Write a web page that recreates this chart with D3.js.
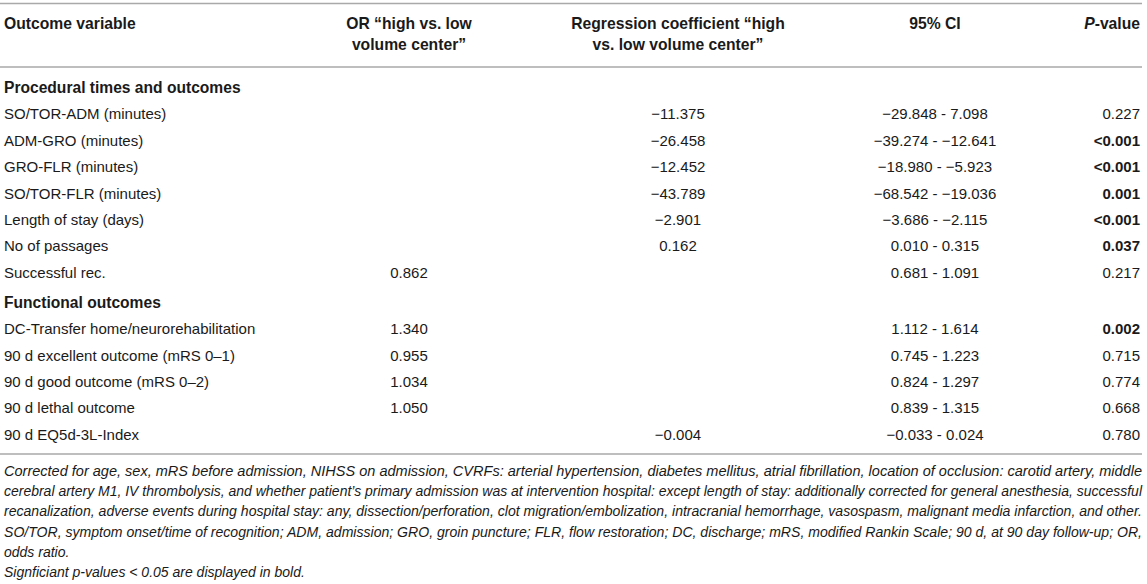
<!DOCTYPE html>
<html>
<head>
<meta charset="utf-8">
<script src="https://cdn.jsdelivr.net/npm/d3@7"></script>
<style>
  html, body { margin: 0; padding: 0; background: #fff; }
  svg text { font-family: "Liberation Sans", Arial, Helvetica, sans-serif; fill: #1a1a1a; }
  .hd { font-weight: bold; font-size: 15.7px; }
  .cell { font-size: 15px; }
  .sec { font-weight: bold; font-size: 15.6px; }
  .note { font-style: italic; font-size: 14px; }
</style>
</head>
<body>
<div id="table"></div>
<script>
// table content
const rowLabels = [
  "Procedural times and outcomes",
  "SO/TOR-ADM (minutes)",
  "ADM-GRO (minutes)",
  "GRO-FLR (minutes)",
  "SO/TOR-FLR (minutes)",
  "Length of stay (days)",
  "No of passages",
  "Successful rec.",
  "Functional outcomes",
  "DC-Transfer home/neurorehabilitation",
  "90 d excellent outcome (mRS 0–1)",
  "90 d good outcome (mRS 0–2)",
  "90 d lethal outcome",
  "90 d EQ5d-3L-Index"
]
const isSection = [true, false, false, false, false, false, false, false, true, false, false, false, false, false]
const orValues = ["", "", "", "", "", "", "", "0.862", "", "1.340", "0.955", "1.034", "1.050", ""]
const regValues = ["", "−11.375", "−26.458", "−12.452", "−43.789", "−2.901", "0.162", "", "", "", "", "", "", "−0.004"]
const ciValues = ["", "−29.848 - 7.098", "−39.274 - −12.641", "−18.980 - −5.923", "−68.542 - −19.036",
  "−3.686 - −2.115", "0.010 - 0.315", "0.681 - 1.091", "", "1.112 - 1.614", "0.745 - 1.223",
  "0.824 - 1.297", "0.839 - 1.315", "−0.033 - 0.024"]
const pValues = ["", "0.227", "<0.001", "<0.001", "0.001", "<0.001", "0.037", "0.217", "", "0.002", "0.715", "0.774", "0.668", "0.780"]
const pBold = [false, false, true, true, true, true, true, false, false, true, false, false, false, false]

const headerLines = [
  ["Outcome variable"],
  ["OR “high vs. low", "volume center”"],
  ["Regression coefficient “high", "vs. low volume center”"],
  ["95% CI"]
]

const noteLines = [
  "Corrected for age, sex, mRS before admission, NIHSS on admission, CVRFs: arterial hypertension, diabetes mellitus, atrial fibrillation, location of occlusion: carotid artery, middle",
  "cerebral artery M1, IV thrombolysis, and whether patient’s primary admission was at intervention hospital: except length of stay: additionally corrected for general anesthesia, successful",
  "recanalization, adverse events during hospital stay: any, dissection/perforation, clot migration/embolization, intracranial hemorrhage, vasospasm, malignant media infarction, and other.",
  "SO/TOR, symptom onset/time of recognition; ADM, admission; GRO, groin puncture; FLR, flow restoration; DC, discharge; mRS, modified Rankin Scale; 90 d, at 90 day follow-up; OR,",
  "odds ratio.",
  "Signficiant p-values < 0.05 are displayed in bold."
]
const noteJustified = [true, true, true, true, false, false]

const width = 1147, height = 584

const svg = d3.select('#table').append('svg')
  .attr('width', width)
  .attr('height', height)

svg.append('rect').attr('width', width).attr('height', height).attr('fill', '#fff')

// column anchors
const col = { label: 4, or: 409, reg: 678, ci: 935, p: 1140 }
const left = 0, right = 1142

// rules
const rules = [3.5, 67, 454]
svg.selectAll('line.rule')
  .data(rules)
  .enter()
  .append('line')
  .attr('class', 'rule')
  .attr('x1', left).attr('x2', right)
  .attr('y1', d => d).attr('y2', d => d)
  .attr('stroke', '#a9a9a9')
  .attr('stroke-width', 1.6)

// header
const hdX = [col.label, col.or, col.reg, col.ci]
const hdAnchor = ['start', 'middle', 'middle', 'middle']
const header = svg.append('g')
headerLines.forEach((lines, i) => {
  const t = header.append('text')
    .attr('class', 'hd')
    .attr('text-anchor', hdAnchor[i])
  lines.forEach((l, j) => {
    t.append('tspan')
      .attr('x', hdX[i])
      .attr('y', 28.5 + j * 21.5)
      .text(l)
  })
})
const pHead = header.append('text')
  .attr('class', 'hd')
  .attr('text-anchor', 'end')
  .attr('x', col.p)
  .attr('y', 28.5)
pHead.append('tspan').attr('font-style', 'italic').text('P')
pHead.append('tspan').text('-value')

// row positions
let acc = 93
const rowY = rowLabels.map((d, i) => {
  if (i > 0) acc += isSection[i] ? 30 : 26.4
  return acc
})
const y = d3.scaleOrdinal().domain(d3.range(rowLabels.length)).range(rowY)

const rows = svg.append('g').selectAll('g')
  .data(d3.range(rowLabels.length))
  .enter()
  .append('g')
  .attr('transform', i => 'translate(0,' + y(i) + ')')

rows.append('text')
  .attr('class', i => isSection[i] ? 'sec' : 'cell')
  .attr('x', col.label)
  .text(i => rowLabels[i])

rows.append('text')
  .attr('class', 'cell')
  .attr('x', col.or)
  .attr('text-anchor', 'middle')
  .text(i => orValues[i])

rows.append('text')
  .attr('class', 'cell')
  .attr('x', col.reg)
  .attr('text-anchor', 'middle')
  .text(i => regValues[i])

rows.append('text')
  .attr('class', 'cell')
  .attr('x', col.ci)
  .attr('text-anchor', 'middle')
  .text(i => ciValues[i])

rows.append('text')
  .attr('class', 'cell')
  .attr('x', col.p)
  .attr('text-anchor', 'end')
  .attr('font-weight', i => pBold[i] ? 'bold' : 'normal')
  .text(i => pValues[i])

// footnote
svg.append('g').selectAll('text')
  .data(noteLines)
  .enter()
  .append('text')
  .attr('class', 'note')
  .attr('x', col.label)
  .attr('y', (d, i) => 476 + i * 20.2)
  .each(function (d, i) {
    if (noteJustified[i]) {
      d3.select(this).attr('textLength', right - col.label).attr('lengthAdjust', 'spacingAndGlyphs')
    }
  })
  .text(d => d)
</script>
</body>
</html>
